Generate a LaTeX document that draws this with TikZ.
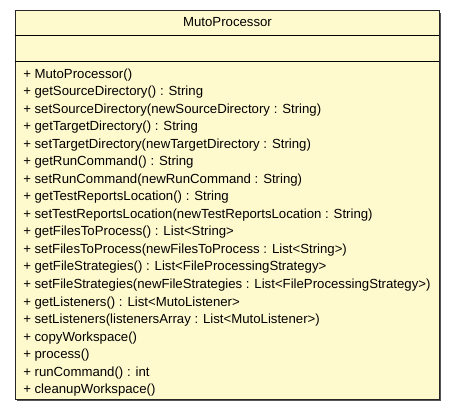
\documentclass[tikz,border=0pt]{standalone}
\usepackage{fontspec}
\setmainfont{Liberation Sans}
\usetikzlibrary{positioning}
\definecolor{classfill}{RGB}{255,250,206}
\definecolor{shadowgray}{RGB}{85,85,85}

\begin{document}
\begin{tikzpicture}[x=0.75pt, y=-0.75pt,
    classbox/.style={draw=black!85, line width=0.75pt, fill=classfill},
    classname/.style={inner sep=0pt, anchor=base, font=\fontsize{9.9pt}{11pt}\selectfont},
    member/.style={inner sep=0pt, anchor=base west, font=\fontsize{9.9pt}{11pt}\selectfont}]
  \useasboundingbox (0,0) rectangle (456,409);
  \fill[shadowgray] (17,13) rectangle (441,401);
  \draw[classbox] (15,11) rectangle (439,399);
  \draw[line width=0.75pt] (15,36) -- (439,36);
  \draw[line width=0.75pt] (15,62) -- (439,62);
  \node[classname] (cls) at (227.5,26.5) {MutoProcessor};
  \foreach \txt [count=\i] in {
      + MutoProcessor(),
      + getSourceDirectory() : String,
      + setSourceDirectory(newSourceDirectory : String),
      + getTargetDirectory() : String,
      + setTargetDirectory(newTargetDirectory : String),
      + getRunCommand() : String,
      + setRunCommand(newRunCommand : String),
      + getTestReportsLocation() : String,
      + setTestReportsLocation(newTestReportsLocation : String),
      + getFilesToProcess() : List<String>,
      + setFilesToProcess(newFilesToProcess : List<String>),
      + getFileStrategies() : List<FileProcessingStrategy>,
      + setFileStrategies(newFileStrategies : List<FileProcessingStrategy>),
      + getListeners() : List<MutoListener>,
      + setListeners(listenersArray : List<MutoListener>),
      + copyWorkspace(),
      + process(),
      + runCommand() : int,
      + cleanupWorkspace()}
    \node[member] (m\i) at (23,{78.5+17.5*(\i-1)}) {\txt};
\end{tikzpicture}
\end{document}
